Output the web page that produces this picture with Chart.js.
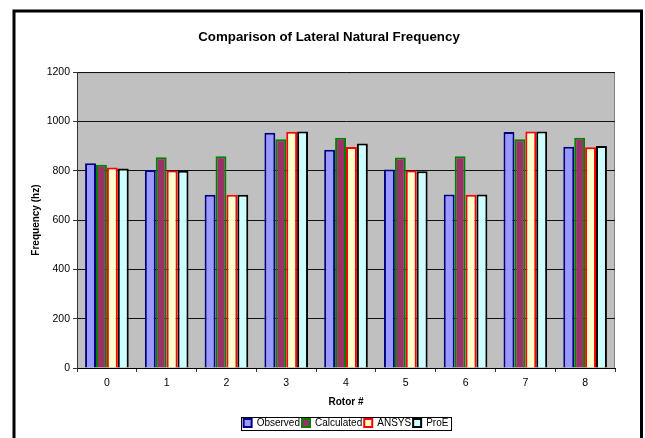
<!DOCTYPE html>
<html>
<head>
<meta charset="utf-8">
<script src="https://cdn.jsdelivr.net/npm/chart.js@4"></script>
<style>
  html, body { margin: 0; padding: 0; background: #fff; }
  #wrap { width: 645px; height: 438px; }
</style>
</head>
<body>
<div id="wrap"><canvas id="c" width="645" height="438"></canvas></div>
<script>
// Rotor numbers along the x axis
const rotors = ['0', '1', '2', '3', '4', '5', '6', '7', '8'];

// Lateral natural frequency (hz) per rotor, by method
const observed   = [831, 803, 703, 954, 885, 805, 704, 957, 897];
const calculated = [824, 855, 859, 928, 934, 854, 859, 928, 934];
const ansys      = [813, 801, 703, 958, 896, 801, 703, 959, 895];
const proe       = [809, 800, 703, 959, 911, 798, 704, 959, 900];

// Y axis range and step
const yMin = 0, yMax = 1200, yStep = 200;

const FONT = "'Liberation Sans', Arial, sans-serif";

// White page, grey plot area, outer frame and the box round the legend
const framePlugin = {
  id: 'frame',
  beforeDraw(chart) {
    const { ctx, chartArea: a } = chart;
    ctx.save();
    ctx.fillStyle = '#ffffff';
    ctx.fillRect(0, 0, chart.width, chart.height);
    ctx.fillStyle = '#C0C0C0';
    ctx.fillRect(a.left, a.top, a.right - a.left, a.bottom - a.top);
    ctx.strokeStyle = '#808080';
    ctx.lineWidth = 1;
    ctx.strokeRect(a.left + 0.5, a.top + 0.5, a.right - a.left - 1, a.bottom - a.top);
    ctx.restore();
  },
  afterDraw(chart) {
    const ctx = chart.ctx;
    ctx.save();
    ctx.strokeStyle = '#000';
    ctx.lineWidth = 3;
    ctx.strokeRect(14, 11, 627.5, 450);
    const hb = chart.legend && chart.legend.legendHitBoxes;
    if (hb && hb.length) {
      const first = hb[0], last = hb[hb.length - 1];
      const x0 = Math.round(first.left - 3) + 0.5;
      const x1 = Math.round(last.left + last.width + 3) + 0.5;
      const cy = first.top + first.height / 2;
      const y0 = Math.round(cy - 6.5) + 0.5;
      const y1 = Math.round(cy + 6.5) + 0.5;
      ctx.lineWidth = 1;
      ctx.strokeRect(x0, y0, x1 - x0, y1 - y0);
    }
    ctx.restore();
  }
};

const ds = (label, data, fill, edge) => ({
  label, data,
  backgroundColor: fill,
  borderColor: edge,
  borderWidth: 2,
  barPercentage: 1.0,
  categoryPercentage: 0.73
});

new Chart(document.getElementById('c'), {
  type: 'bar',
  data: {
    labels: rotors,
    datasets: [
      ds('Observed',   observed,   '#9999FF', '#000080'),
      ds('Calculated', calculated, '#993366', '#008000'),
      ds('ANSYS',      ansys,      '#FFFFCC', '#FF0000'),
      ds('ProE',       proe,       '#CCFFFF', '#000000')
    ]
  },
  options: {
    responsive: false,
    animation: false,
    devicePixelRatio: 1,
    layout: { padding: { left: 16, right: 3, top: 0, bottom: 0 } },
    plugins: {
      tooltip: { enabled: false },
      title: {
        display: true,
        text: 'Comparison of Lateral Natural Frequency',
        color: '#000',
        font: { family: FONT, size: 13.3, weight: 'bold' },
        padding: { top: 29, bottom: 27.2 }
      },
      legend: {
        display: true,
        position: 'bottom',
        fullSize: false,
        labels: {
          color: '#000',
          font: { family: FONT, size: 10 },
          boxWidth: 8,
          boxHeight: 8,
          padding: 2
        }
      }
    },
    scales: {
      x: {
        type: 'category',
        offset: true,
        afterFit(s) { s.height = 48; },
        grid: {
          offset: true,
          drawOnChartArea: false,
          drawTicks: true,
          tickLength: 4,
          tickColor: '#333',
          color: '#333'
        },
        border: { display: true, color: '#000', width: 1 },
        ticks: {
          color: '#000',
          padding: 5,
          font: { family: FONT, size: 10.5 },
          maxRotation: 0
        },
        title: {
          display: true,
          text: 'Rotor #',
          color: '#000',
          font: { family: FONT, size: 10, weight: 'bold' },
          padding: { top: 0, bottom: 8 }
        }
      },
      y: {
        type: 'linear',
        position: 'left',
        min: yMin,
        max: yMax,
        afterFit(s) { s.width = 61; },
        grid: {
          color: '#111',
          lineWidth: 1,
          drawTicks: true,
          tickLength: 4,
          tickColor: '#333'
        },
        border: { display: true, color: '#333', width: 1 },
        ticks: {
          stepSize: yStep,
          color: '#000',
          padding: 3,
          font: { family: FONT, size: 10.5 },
          callback: (v) => String(v)
        },
        title: {
          display: true,
          text: 'Frequency (hz)',
          color: '#000',
          font: { family: FONT, size: 10, weight: 'bold' },
          padding: { top: 14, bottom: 0 }
        }
      },
      yRight: {
        type: 'linear',
        position: 'right',
        display: true,
        afterFit(s) { s.width = 27; },
        grid: { display: false, drawOnChartArea: false },
        border: { display: false },
        ticks: { display: false }
      }
    }
  },
  plugins: [framePlugin]
});
</script>
</body>
</html>
